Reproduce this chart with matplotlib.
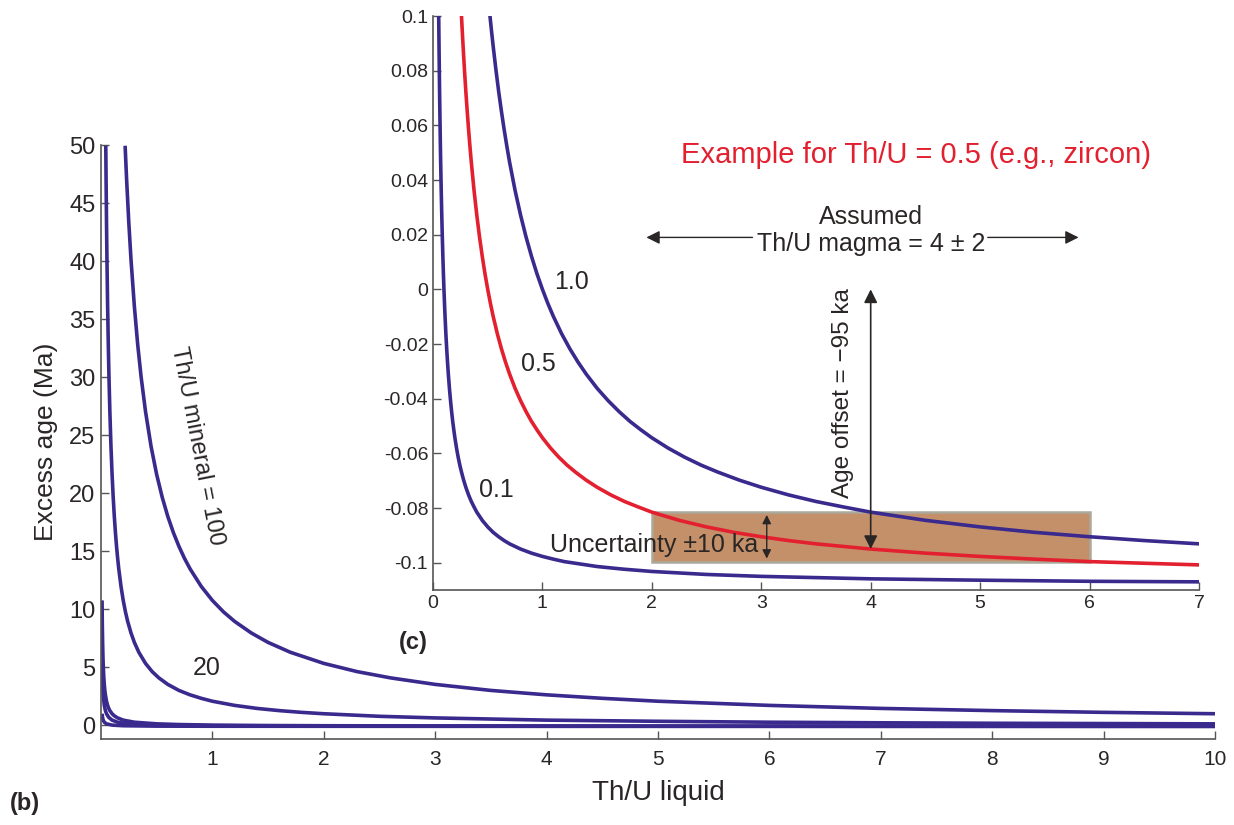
import matplotlib as mpl
mpl.use('Agg')
import matplotlib.pyplot as plt
from matplotlib.patches import Rectangle

plt.rcParams['font.family'] = ['Liberation Sans', 'DejaVu Sans']

BLUE = "#3a2a8e"
RED = "#e3202f"
INK = "#2a2626"

# ---- panel (b): excess age (Ma) vs Th/U liquid, one curve per Th/U mineral ----
b_x_100 = [0.217, 0.23, 0.25, 0.27, 0.3, 0.33, 0.36, 0.4, 0.45, 0.5, 0.55, 0.6, 0.65, 0.7, 0.75, 0.8,
           0.9, 1.0, 1.1, 1.2, 1.35, 1.5, 1.7, 2.0, 2.3, 2.6, 3, 3.5, 4, 4.5, 5, 6, 7, 8, 9, 10]
b_y_100 = [49.94, 47.11, 43.33, 40.11, 36.09, 32.80, 30.06, 27.04, 24.02, 21.61, 19.64, 17.99, 16.60,
           15.41, 14.37, 13.47, 11.96, 10.75, 9.76, 8.94, 7.94, 7.13, 6.28, 5.32, 4.61, 4.07, 3.51,
           2.99, 2.61, 2.31, 2.06, 1.70, 1.44, 1.25, 1.10, 0.98]

b_x_20 = [0.0434, 0.046, 0.05, 0.054, 0.06, 0.066, 0.072, 0.08, 0.09, 0.1, 0.11, 0.12, 0.13, 0.14,
          0.15, 0.16, 0.18, 0.2, 0.22, 0.24, 0.27, 0.3, 0.34, 0.4, 0.46, 0.52, 0.6, 0.7, 0.8, 0.9,
          1.0, 1.2, 1.4, 1.6, 1.8, 2.0, 2.5, 3, 4, 5, 6, 7, 8, 10]
b_y_20 = [49.94, 47.11, 43.33, 40.11, 36.09, 32.80, 30.06, 27.04, 24.02, 21.61, 19.64, 17.99, 16.60,
          15.41, 14.37, 13.47, 11.96, 10.75, 9.76, 8.94, 7.94, 7.13, 6.28, 5.32, 4.61, 4.07, 3.51,
          2.99, 2.61, 2.31, 2.06, 1.70, 1.44, 1.25, 1.10, 0.98, 0.76, 0.62, 0.43, 0.33, 0.25, 0.20,
          0.16, 0.11]

b_x_1 = [0.01, 0.012, 0.015, 0.018, 0.02, 0.025, 0.03, 0.035, 0.04, 0.05, 0.06, 0.07, 0.08, 0.1,
         0.12, 0.15, 0.2, 0.3, 0.5, 0.7, 1, 1.5, 2, 3, 5, 7, 10]
b_y_1 = [10.75, 8.94, 7.13, 5.92, 5.32, 4.24, 3.51, 2.99, 2.61, 2.06, 1.70, 1.44, 1.25, 0.98, 0.80,
         0.62, 0.43, 0.25, 0.11, 0.05, 0.0, -0.036, -0.054, -0.072, -0.087, -0.093, -0.098]

b_x_05 = [0.01, 0.015, 0.02, 0.03, 0.04, 0.05, 0.07, 0.1, 0.15, 0.2, 0.3, 0.5, 1, 2, 4, 7, 10]
b_y_05 = [5.32, 3.51, 2.61, 1.70, 1.25, 0.98, 0.67, 0.43, 0.25, 0.16, 0.07, 0.0, -0.054, -0.081,
          -0.095, -0.101, -0.103]

b_x_01 = [0.01, 0.015, 0.02, 0.03, 0.05, 0.1, 0.2, 0.5, 1, 3, 10]
b_y_01 = [0.98, 0.62, 0.43, 0.25, 0.11, 0.0, -0.054, -0.087, -0.098, -0.105, -0.107]

b_xticks = [1, 2, 3, 4, 5, 6, 7, 8, 9, 10]
b_yticks = [0, 5, 10, 15, 20, 25, 30, 35, 40, 45, 50]

# ---- panel (c): zoom on the small offsets, Th/U mineral = 1.0, 0.5, 0.1 ----
c_x_10 = [0.52, 0.535, 0.55, 0.575, 0.6, 0.625, 0.65, 0.675, 0.7, 0.75, 0.8, 0.85, 0.9, 0.95, 1.0,
          1.05, 1.1, 1.175, 1.25, 1.325, 1.4, 1.5, 1.6, 1.7, 1.8, 1.9, 2.0, 2.15, 2.3, 2.45, 2.6,
          2.8, 3.0, 3.25, 3.5, 3.75, 4, 4.5, 5, 5.5, 6, 6.5, 7]
c_y_10 = [0.1002, 0.0944, 0.0889, 0.0803, 0.0724, 0.0652, 0.0585, 0.0523, 0.0465, 0.0362, 0.0272,
          0.0192, 0.0121, 0.0057, 0.0, -0.0052, -0.0099, -0.0162, -0.0217, -0.0266, -0.0310,
          -0.0362, -0.0407, -0.0447, -0.0483, -0.0514, -0.0543, -0.0581, -0.0614, -0.0643, -0.0668,
          -0.0698, -0.0724, -0.0752, -0.0776, -0.0796, -0.0815, -0.0845, -0.0869, -0.0889, -0.0905,
          -0.0919, -0.0931]

c_x_05 = [0.26, 0.2675, 0.275, 0.2875, 0.3, 0.3125, 0.325, 0.3375, 0.35, 0.375, 0.4, 0.425, 0.45,
          0.475, 0.5, 0.525, 0.55, 0.5875, 0.625, 0.6625, 0.7, 0.75, 0.8, 0.85, 0.9, 0.95, 1.0,
          1.075, 1.15, 1.225, 1.3, 1.4, 1.5, 1.625, 1.75, 1.875, 2, 2.25, 2.5, 2.75, 3, 3.25, 3.5,
          4, 4.5, 5, 5.5, 6, 6.5, 7]
c_y_05 = [0.1002, 0.0944, 0.0889, 0.0803, 0.0724, 0.0652, 0.0585, 0.0523, 0.0465, 0.0362, 0.0272,
          0.0192, 0.0121, 0.0057, 0.0, -0.0052, -0.0099, -0.0162, -0.0217, -0.0266, -0.0310,
          -0.0362, -0.0407, -0.0447, -0.0483, -0.0514, -0.0543, -0.0581, -0.0614, -0.0643, -0.0668,
          -0.0698, -0.0724, -0.0752, -0.0776, -0.0796, -0.0815, -0.0845, -0.0869, -0.0889, -0.0905,
          -0.0919, -0.0931, -0.0950, -0.0965, -0.0977, -0.0987, -0.0996, -0.1002, -0.1008]

c_x_01 = [0.052, 0.0535, 0.055, 0.0575, 0.06, 0.0625, 0.065, 0.0675, 0.07, 0.075, 0.08, 0.085, 0.09,
          0.095, 0.1, 0.105, 0.11, 0.1175, 0.125, 0.1325, 0.14, 0.15, 0.16, 0.17, 0.18, 0.19, 0.2,
          0.215, 0.23, 0.245, 0.26, 0.28, 0.3, 0.325, 0.35, 0.375, 0.4, 0.45, 0.5, 0.55, 0.6, 0.65,
          0.7, 0.8, 0.9, 1.0, 1.1, 1.2, 1.3, 1.4, 1.5, 1.75, 2, 2.5, 3, 4, 5, 6, 7]
c_y_01 = [0.1002, 0.0944, 0.0889, 0.0803, 0.0724, 0.0652, 0.0585, 0.0523, 0.0465, 0.0362, 0.0272,
          0.0192, 0.0121, 0.0057, 0.0, -0.0052, -0.0099, -0.0162, -0.0217, -0.0266, -0.0310,
          -0.0362, -0.0407, -0.0447, -0.0483, -0.0514, -0.0543, -0.0581, -0.0614, -0.0643, -0.0668,
          -0.0698, -0.0724, -0.0752, -0.0776, -0.0796, -0.0815, -0.0845, -0.0869, -0.0889, -0.0905,
          -0.0919, -0.0931, -0.0950, -0.0965, -0.0977, -0.0987, -0.0996, -0.1002, -0.1008, -0.1014,
          -0.1024, -0.1032, -0.1043, -0.1050, -0.1059, -0.1064, -0.1068, -0.1070]

c_xticks = [0, 1, 2, 3, 4, 5, 6, 7]
c_yticks = [-0.1, -0.08, -0.06, -0.04, -0.02, 0, 0.02, 0.04, 0.06, 0.08, 0.1]
c_yticklabels = ["-0.1", "-0.08", "-0.06", "-0.04", "-0.02", "0", "0.02", "0.04", "0.06", "0.08", "0.1"]

# magma Th/U = 4 +/- 2 and the resulting offset for zircon (Th/U = 0.5)
magma_lo, magma_mid, magma_hi = 2, 4, 6
box_lo, box_hi = -0.0996, -0.0815
age_offset = -0.095
unc_lo, unc_hi = -0.0985, -0.0825


def style_axes(ax):
    for side in ["top", "right"]:
        ax.spines[side].set_visible(False)
    for side in ["left", "bottom"]:
        ax.spines[side].set_color("#555555")
        ax.spines[side].set_linewidth(1.2)
    ax.tick_params(direction="in", length=6, width=1.0, color="#555555", labelcolor=INK)


fig = plt.figure(figsize=(12.34, 8.25), dpi=100)

# main panel
ax = fig.add_axes([0.0818, 0.1042, 0.9028, 0.7200])
style_axes(ax)
lw = 2.6
for xs, ys in [(b_x_100, b_y_100), (b_x_20, b_y_20), (b_x_1, b_y_1), (b_x_05, b_y_05), (b_x_01, b_y_01)]:
    ax.plot(xs, ys, color=BLUE, linewidth=lw, solid_capstyle="butt")
ax.set_xlim(0, 10)
ax.set_ylim(-1.2, 50)
ax.set_xticks(b_xticks)
ax.set_yticks(b_yticks)
ax.tick_params(axis="x", labelsize=15, pad=8)
ax.tick_params(axis="y", labelsize=17, pad=4)
ax.set_xlabel("Th/U liquid", fontsize=20, color=INK, labelpad=8)
ax.set_ylabel("Excess age (Ma)", fontsize=19, color=INK, labelpad=8)

ax.text(0.86, 24.1, "Th/U mineral = 100", rotation=-79, fontsize=17, color=INK,
        ha="center", va="center", rotation_mode="anchor")
ax.text(0.95, 4.9, "20", fontsize=18, color=INK, ha="center", va="center")
fig.text(0.008, 0.018, "(b)", fontsize=17, fontweight="bold", color=INK)

# inset panel
ins = fig.add_axes([0.3509, 0.2848, 0.6207, 0.6958])
style_axes(ins)
ins.patch.set_alpha(0)
ins.add_patch(Rectangle((magma_lo, box_lo), magma_hi - magma_lo, box_hi - box_lo,
                        facecolor="#c4906a", edgecolor="#aaa99b", linewidth=1.8, zorder=1))
ins.plot(c_x_10, c_y_10, color=BLUE, linewidth=lw, zorder=3)
ins.plot(c_x_05, c_y_05, color=RED, linewidth=lw, zorder=3)
ins.plot(c_x_01, c_y_01, color=BLUE, linewidth=lw, zorder=3)
ins.set_xlim(0, 7)
ins.set_ylim(-0.110, 0.1)
ins.set_xticks(c_xticks)
ins.set_yticks(c_yticks)
ins.set_yticklabels(c_yticklabels)
ins.tick_params(labelsize=14)

ins.text(1.27, 0.0026, "1.0", fontsize=18, color=INK, ha="center", va="center")
ins.text(0.96, -0.0274, "0.5", fontsize=18, color=INK, ha="center", va="center")
ins.text(0.58, -0.0733, "0.1", fontsize=18, color=INK, ha="center", va="center")
ins.text(4.41, 0.0490, "Example for Th/U = 0.5 (e.g., zircon)", fontsize=21, color=RED,
         ha="center", va="center")
ins.text(magma_mid, 0.0265, "Assumed", fontsize=18, color=INK, ha="center", va="center")
ins.text(magma_mid, 0.0165, "Th/U magma = 4 \u00b1 2", fontsize=18, color=INK,
         ha="center", va="center")

arrow = dict(arrowstyle="-|>", color=INK, lw=1.0, mutation_scale=20, shrinkA=0, shrinkB=0)
ins.annotate("", xy=(magma_lo - 0.05, 0.0190), xytext=(2.92, 0.0190), arrowprops=arrow)
ins.annotate("", xy=(magma_hi - 0.1, 0.0190), xytext=(5.07, 0.0190), arrowprops=arrow)

# age offset arrow at magma Th/U = 4
both = dict(arrowstyle="<|-|>", color=INK, lw=1.2, mutation_scale=20, shrinkA=0, shrinkB=0)
ins.annotate("", xy=(magma_mid, 0.0), xytext=(magma_mid, age_offset), arrowprops=both, zorder=4)
ins.text(3.75, -0.038, "Age offset = \u221295 ka", rotation=90, fontsize=17.5, color=INK,
         ha="center", va="center")

# uncertainty arrow
small = dict(arrowstyle="<|-|>", color=INK, lw=1.0, mutation_scale=13, shrinkA=0, shrinkB=0)
ins.annotate("", xy=(3.05, unc_hi), xytext=(3.05, unc_lo), arrowprops=small, zorder=4)
ins.text(2.97, -0.0935, "Uncertainty \u00b110 ka", fontsize=18, color=INK, ha="right", va="center",
         zorder=5)

fig.text(0.323, 0.213, "(c)", fontsize=17, fontweight="bold", color=INK)

fig.savefig("out.png", dpi=100)
